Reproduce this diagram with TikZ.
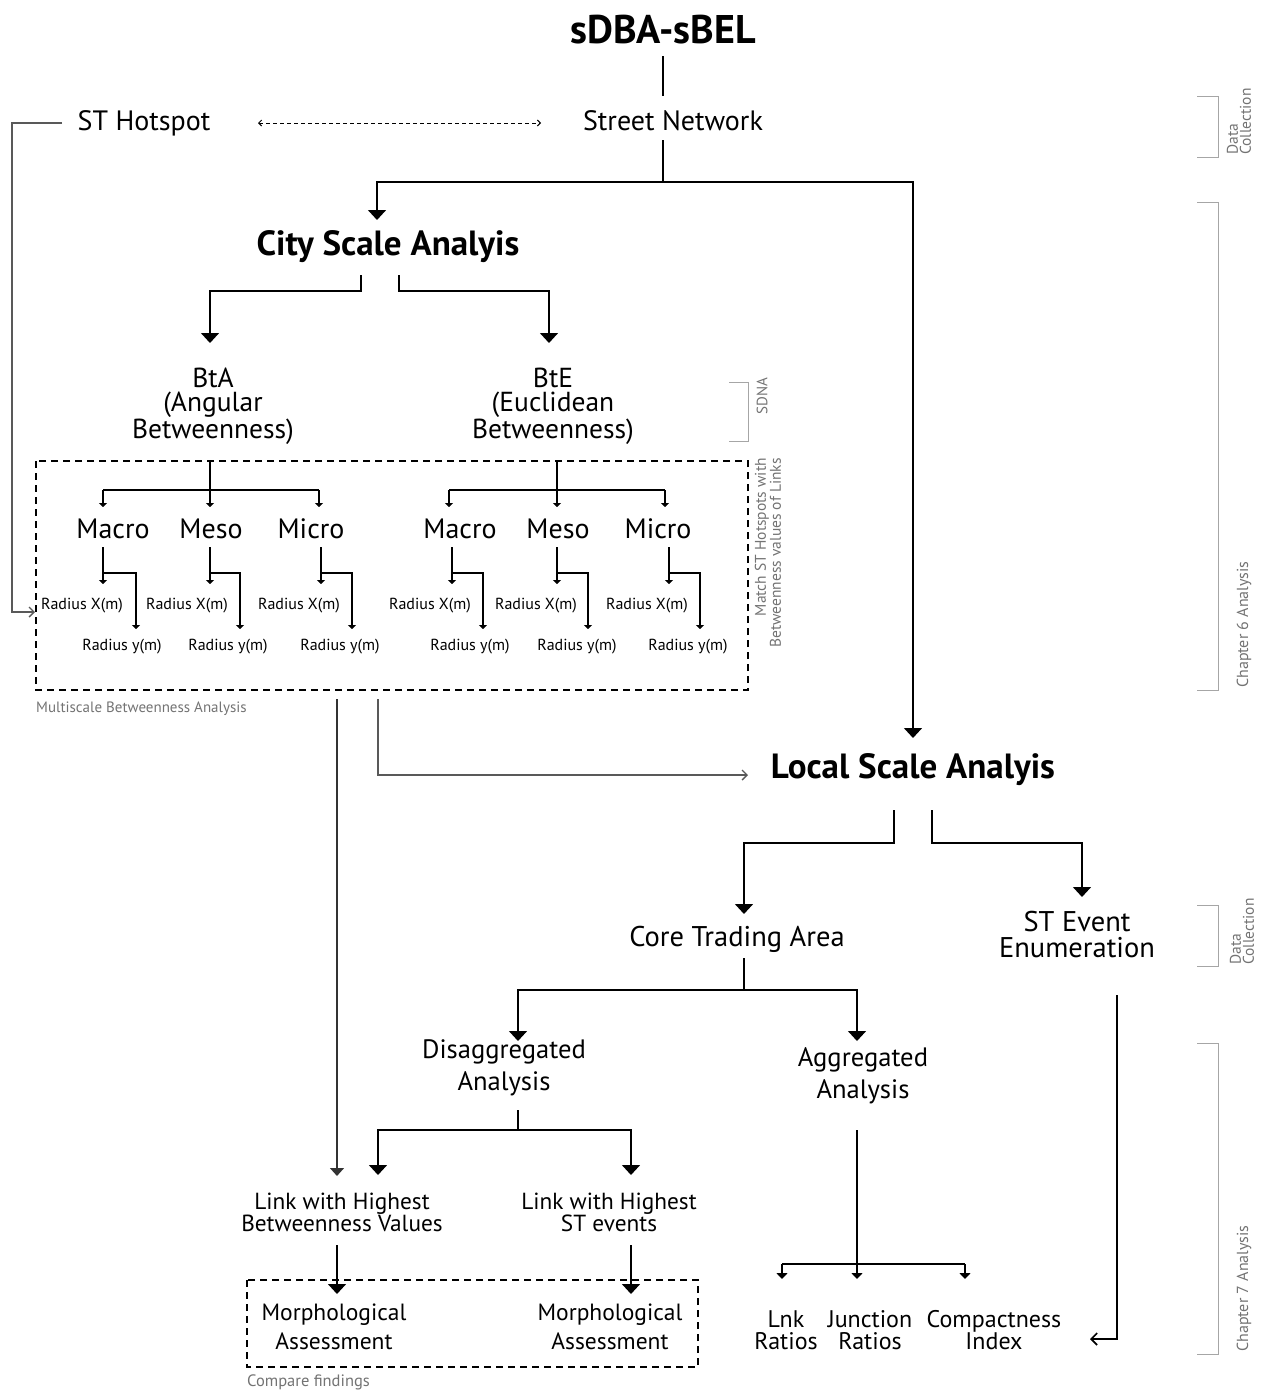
\documentclass[tikz,border=0pt]{standalone}
\usepackage{fontspec}
\setmainfont{PT Sans}
\usetikzlibrary{arrows.meta}
\begin{document}
\begin{tikzpicture}[x=1pt,y=-1pt,
  every node/.style={inner sep=0pt, align=center},
  titlef/.style={font=\fontsize{40}{42}\selectfont\bfseries},
  boldf/.style={font=\fontsize{35}{37}\selectfont\bfseries},
  mainf/.style={font=\fontsize{28}{23}\selectfont},
  levf/.style={font=\fontsize{28}{28}\selectfont},
  radf/.style={font=\fontsize{16}{17}\selectfont},
  grayf/.style={font=\fontsize{15}{16}\selectfont, text=black!55},
  ln/.style={line width=1.6pt},
  big/.style={ln, -{Triangle[width=18pt,length=10pt]}},
  mid/.style={ln, -{Triangle[width=11pt,length=6pt]}},
  sml/.style={line width=1.3pt, -{Triangle[width=8pt,length=4pt]}},
  gbarb/.style={line width=1.4pt, black!65, -{Straight Barb[width=10pt,length=5pt]}},
  dashbox/.style={line width=1.1pt, dash pattern=on 7pt off 5pt},
  brk/.style={line width=1pt, black!35},
]
\useasboundingbox (0,0) rectangle (1265,1393);

% ---------- top ----------
\node[titlef] (title) at (663,30) {sDBA-sBEL};
\node[mainf, anchor=base] (hot) at (144,130) {ST Hotspot};
\node[mainf, anchor=base] (street) at (673,130) {Street Network};
\coordinate (t1) at (663,56);
\coordinate (t2) at (663,96);
\draw[ln] (t1) -- (t2);
\coordinate (d1) at (258,123);
\coordinate (d2) at (541,123);
\draw[line width=1pt, dash pattern=on 4pt off 3pt, {Straight Barb[width=6pt,length=3pt]}-{Straight Barb[width=6pt,length=3pt]}] (d1) -- (d2);

% hotspot to dashed box
\coordinate (h1) at (62,123);
\coordinate (h2) at (35,612);
\draw[gbarb] (h1) -- (12,123) -- (12,612) -- (h2);

% street to branches
\coordinate (s1) at (663,140);
\coordinate (s2) at (663,182);
\draw[ln] (s1) -- (s2);
\node[boldf] (city) at (388,247) {City Scale Analyis};
\node[boldf] (local) at (913,770) {Local Scale Analyis};
\draw[big] (s2) -- (377,182) -- (377,220);
\draw[big] (s2) -- (913,182) -- (913,738);

% city to BtA / BtE
\draw[big] (361,275) -- (361,291) -- (210,291) -- (210,343);
\draw[big] (399,275) -- (399,291) -- (549,291) -- (549,343);
\node[mainf, font=\fontsize{27.5}{24}\selectfont] (bta) at (213,406) {BtA\\(Angular\\Betweenness)};
\node[mainf, font=\fontsize{27.5}{24}\selectfont] (bte) at (553,406) {BtE\\(Euclidean\\Betweenness)};

% SDNA bracket
\draw[brk] (729,382) -- (748,382) -- (748,441) -- (729,441);
\node[grayf, rotate=90] (sdna) at (762,396) {SDNA};

% dashed box
\draw[dashbox] (36,461) rectangle (748,690);
\node[grayf, rotate=90, anchor=east, align=right, font=\fontsize{15.5}{15}\selectfont] (match) at (768,458) {Match ST Hotspots with\\Betweenness values of Links};
\node[grayf, anchor=west] (multi) at (36,709) {Multiscale Betweenness Analysis};

% left tree
\node[levf] (maA) at (113,529) {Macro};
\node[levf] (meA) at (211,529) {Meso};
\node[levf] (miA) at (311,529) {Micro};
\draw[sml] (210,461) -- (210,507);
\draw[ln, line width=1.3pt] (103,490) -- (319,490);
\draw[sml] (103,490) -- (103,507);
\draw[sml] (319,490) -- (319,507);

\draw[sml] (103,547) -- (103,584);
\draw[sml] (103,573) -- (136,573) -- (136,629);
\node[radf] (rxA1) at (82,606) {Radius X(m)};
\node[radf] (ryA1) at (122,647) {Radius y(m)};
\draw[sml] (210,547) -- (210,584);
\draw[sml] (210,573) -- (240,573) -- (240,629);
\node[radf] (rxA2) at (187,606) {Radius X(m)};
\node[radf] (ryA2) at (228,647) {Radius y(m)};
\draw[sml] (321,547) -- (321,584);
\draw[sml] (321,573) -- (352,573) -- (352,629);
\node[radf] (rxA3) at (299,606) {Radius X(m)};
\node[radf] (ryA3) at (340,647) {Radius y(m)};

% right tree
\node[levf] (maE) at (460,529) {Macro};
\node[levf] (meE) at (558,529) {Meso};
\node[levf] (miE) at (658,529) {Micro};
\draw[sml] (557,461) -- (557,507);
\draw[ln, line width=1.3pt] (449,490) -- (665,490);
\draw[sml] (449,490) -- (449,507);
\draw[sml] (665,490) -- (665,507);

\draw[sml] (452,547) -- (452,584);
\draw[sml] (452,573) -- (483,573) -- (483,629);
\node[radf] (rxE1) at (430,606) {Radius X(m)};
\node[radf] (ryE1) at (470,647) {Radius y(m)};
\draw[sml] (557,547) -- (557,584);
\draw[sml] (557,573) -- (588,573) -- (588,629);
\node[radf] (rxE2) at (536,606) {Radius X(m)};
\node[radf] (ryE2) at (577,647) {Radius y(m)};
\draw[sml] (669,547) -- (669,584);
\draw[sml] (669,573) -- (700,573) -- (700,629);
\node[radf] (rxE3) at (647,606) {Radius X(m)};
\node[radf] (ryE3) at (688,647) {Radius y(m)};

% from box
\draw[line width=1.4pt, black!80, -{Triangle[width=14pt,length=8pt]}] (337,699) -- (337,1176);
\draw[gbarb] (378,699) -- (378,775) -- (748,775);

% local scale branches
\draw[big] (894,810) -- (894,843) -- (744,843) -- (744,914);
\draw[big] (932,810) -- (932,843) -- (1082,843) -- (1082,897);
\node[mainf, font=\fontsize{28.5}{26}\selectfont] (core) at (737,939) {Core Trading Area};
\node[mainf, font=\fontsize{28.5}{26}\selectfont] (event) at (1077,935) {ST Event\\Enumeration};

% core to disagg / agg
\draw[ln] (744,958) -- (744,990);
\draw[big] (744,990) -- (518,990) -- (518,1041);
\draw[big] (744,990) -- (857,990) -- (857,1041);
\node[mainf, font=\fontsize{26.6}{32}\selectfont] (dis) at (504,1068) {Disaggregated\\Analysis};
\node[mainf, font=\fontsize{26.6}{32}\selectfont] (agg) at (863,1076) {Aggregated\\Analysis};

% disagg to links
\draw[ln] (518,1110) -- (518,1130);
\draw[big] (518,1130) -- (378,1130) -- (378,1175);
\draw[big] (518,1130) -- (631,1130) -- (631,1175);
\node[mainf, font=\fontsize{23.3}{22}\selectfont] (lb) at (342,1212) {Link with Highest\\Betweenness Values};
\node[mainf, font=\fontsize{23.3}{22}\selectfont] (le) at (609,1212) {Link with Highest\\ST events};

% links to morph
\draw[big] (337,1245) -- (337,1294);
\draw[big] (631,1245) -- (631,1294);
\draw[dashbox] (247,1280) rectangle (698,1367);
\node[mainf, font=\fontsize{23.5}{29}\selectfont] (m1) at (334,1327) {Morphological\\Assessment};
\node[mainf, font=\fontsize{23.5}{29}\selectfont] (m2) at (610,1327) {Morphological\\Assessment};
\node[grayf, anchor=west, font=\fontsize{16.5}{17}\selectfont] (cmp) at (247,1382) {Compare findings};

% aggregated to ratios
\draw[mid] (857,1130) -- (857,1279);
\draw[ln] (782,1264) -- (965,1264);
\draw[mid] (782,1264) -- (782,1279);
\draw[mid] (965,1264) -- (965,1279);
\node[mainf, font=\fontsize{24}{22}\selectfont] (lnk) at (786,1330) {Lnk\\Ratios};
\node[mainf, font=\fontsize{24}{22}\selectfont] (jun) at (870,1330) {Junction\\Ratios};
\node[mainf, font=\fontsize{24}{22}\selectfont] (cmpx) at (994,1330) {Compactness\\Index};

% event to ratios
\draw[ln, -{Straight Barb[width=12pt,length=6pt]}] (1117,995) -- (1117,1339) -- (1090,1339);

% right brackets
\draw[brk] (1197,96) -- (1218,96) -- (1218,157) -- (1197,157);
\node[grayf, rotate=90, anchor=west, align=left, font=\fontsize{15.5}{13}\selectfont] (dc1) at (1239,155) {Data\\Collection};
\draw[brk] (1197,202) -- (1218,202) -- (1218,690) -- (1197,690);
\node[grayf, rotate=90, anchor=west, font=\fontsize{16}{16}\selectfont] (ch6) at (1244,688) {Chapter 6 Analysis};
\draw[brk] (1197,905) -- (1218,905) -- (1218,966) -- (1197,966);
\node[grayf, rotate=90, anchor=west, align=left, font=\fontsize{15.5}{13}\selectfont] (dc2) at (1242,965) {Data\\Collection};
\draw[brk] (1197,1043) -- (1218,1043) -- (1218,1354) -- (1197,1354);
\node[grayf, rotate=90, anchor=west, font=\fontsize{16}{16}\selectfont] (ch7) at (1244,1352) {Chapter 7 Analysis};
\end{tikzpicture}
\end{document}
